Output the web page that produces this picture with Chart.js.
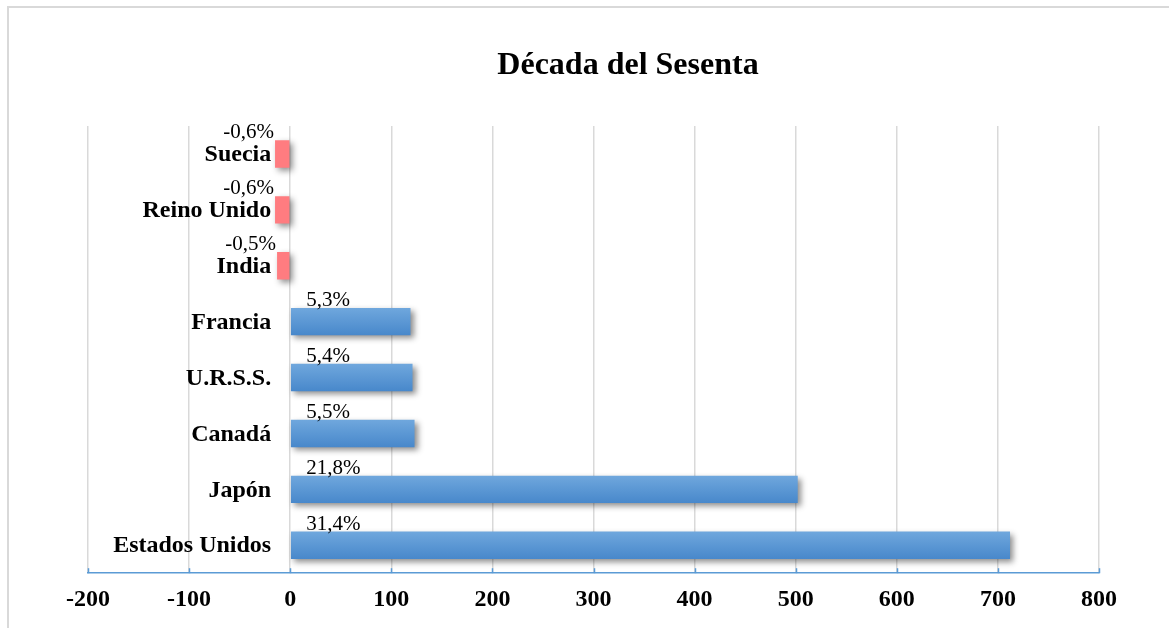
<!DOCTYPE html>
<html>
<head>
<meta charset="utf-8">
<script src="https://cdn.jsdelivr.net/npm/chart.js@4.4.0/dist/chart.umd.min.js"></script>
<style>
  html, body { margin: 0; padding: 0; background: #fff; }
  #grafico { display: block; }
</style>
</head>
<body>
<canvas id="grafico" width="1169" height="628"></canvas>
<script>
const titulo = 'Década del Sesenta';
const categorias = ['Suecia', 'Reino Unido', 'India', 'Francia', 'U.R.S.S.', 'Canadá', 'Japón', 'Estados Unidos'];
const valores = [-15, -15, -13, 119, 121, 123, 502, 712];
const porcentajes = [-0.6, -0.6, -0.5, 5.3, 5.4, 5.5, 21.8, 31.4];
const ejeMin = -200;
const ejeMax = 800;
const ejePaso = 100;

const fuente = '"Liberation Serif", "Times New Roman", serif';
const azulEje = '#5b9bd5';
const gris = '#d9d9d9';

function formatoPct(v) {
  return v.toFixed(1).replace('.', ',') + '%';
}

// degradado vertical de cada barra positiva
function colorBarra(ctx) {
  const chart = ctx.chart;
  const v = valores[ctx.dataIndex];
  if (v < 0) return '#ff7c80';
  if (!chart.chartArea || !chart.scales.y) return '#5b9bd5';
  const el = chart.getDatasetMeta(0).data[ctx.dataIndex];
  const y = chart.scales.y.getPixelForValue(ctx.dataIndex);
  const h = el && el.height ? el.height : 27;
  const g = chart.ctx.createLinearGradient(0, y - h / 2, 0, y + h / 2);
  g.addColorStop(0, '#6fa7dd');
  g.addColorStop(1, '#4888cb');
  return g;
}

const sombra = {
  id: 'sombra',
  beforeDatasetsDraw(chart) {
    const c = chart.ctx;
    c.save();
    c.shadowColor = 'rgba(0,0,0,0.45)';
    c.shadowBlur = 6;
    c.shadowOffsetX = 3;
    c.shadowOffsetY = 3;
  },
  afterDatasetsDraw(chart) {
    chart.ctx.restore();
  }
};

const marco = {
  id: 'marco',
  beforeDraw(chart) {
    const c = chart.ctx;
    c.save();
    c.strokeStyle = gris;
    c.lineWidth = 2;
    c.beginPath();
    c.moveTo(8, chart.height);
    c.lineTo(8, 7);
    c.lineTo(chart.width, 7);
    c.stroke();
    c.restore();
  }
};

const textos = {
  id: 'textos',
  afterDraw(chart) {
    const c = chart.ctx;
    const x = chart.scales.x;
    const y = chart.scales.y;
    const area = chart.chartArea;
    const x0 = x.getPixelForValue(0);
    c.save();

    // marcas del eje hacia dentro
    c.strokeStyle = azulEje;
    c.lineWidth = 1.5;
    for (let v = ejeMin; v <= ejeMax; v += ejePaso) {
      const px = Math.round(x.getPixelForValue(v)) + 0.5;
      c.beginPath();
      c.moveTo(px, area.bottom);
      c.lineTo(px, area.bottom - 5);
      c.stroke();
    }

    // titulo
    c.fillStyle = '#000';
    c.font = 'bold 32px ' + fuente;
    c.textAlign = 'center';
    c.textBaseline = 'middle';
    c.fillText(titulo, 628, 66);

    const meta = chart.getDatasetMeta(0);
    categorias.forEach((nombre, i) => {
      const cy = y.getPixelForValue(i);
      c.font = 'bold 24px ' + fuente;
      c.textAlign = 'right';
      c.textBaseline = 'middle';
      c.fillText(nombre, x0 - 19, cy + 1);

      const bar = meta.data[i];
      const top = cy - bar.height / 2;
      c.font = '21px ' + fuente;
      c.textBaseline = 'alphabetic';
      if (valores[i] < 0) {
        c.textAlign = 'right';
        c.fillText(formatoPct(porcentajes[i]), x.getPixelForValue(valores[i]) - 1, top - 2);
      } else {
        c.textAlign = 'left';
        c.fillText(formatoPct(porcentajes[i]), x0 + 16, top - 2);
      }
    });
    c.restore();
  }
};

new Chart(document.getElementById('grafico'), {
  type: 'bar',
  data: {
    labels: categorias,
    datasets: [{
      data: valores,
      backgroundColor: colorBarra,
      borderWidth: 0,
      categoryPercentage: 1,
      barPercentage: 0.49
    }]
  },
  options: {
    indexAxis: 'y',
    responsive: false,
    animation: false,
    layout: { padding: { top: 126, left: 88, right: 70, bottom: 2 } },
    plugins: {
      legend: { display: false },
      title: { display: false },
      tooltip: { enabled: false }
    },
    scales: {
      x: {
        min: ejeMin,
        max: ejeMax,
        ticks: {
          stepSize: ejePaso,
          color: '#000',
          padding: 12,
          font: { family: fuente, size: 24, weight: 'bold' }
        },
        grid: { color: gris, lineWidth: 1.5, drawTicks: false },
        border: { display: true, color: azulEje, width: 1.5 }
      },
      y: {
        display: false
      }
    }
  },
  plugins: [marco, sombra, textos]
});
</script>
</body>
</html>
